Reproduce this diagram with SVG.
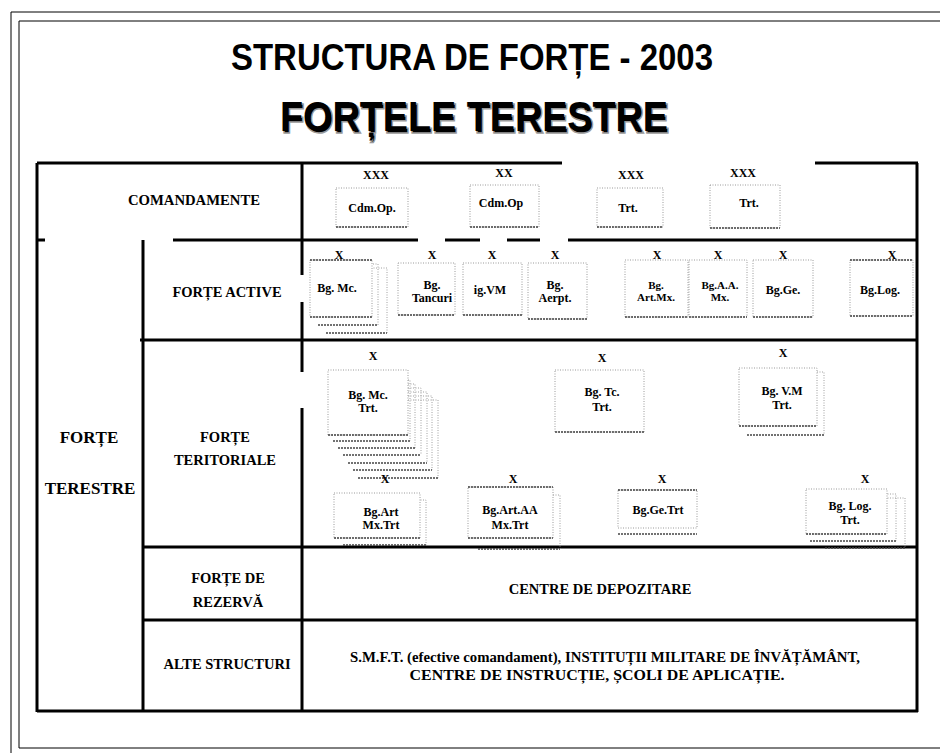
<svg xmlns="http://www.w3.org/2000/svg" width="940" height="753" viewBox="0 0 940 753">
<style>
.t{font-family:"Liberation Serif","Times New Roman",serif;font-weight:bold;text-anchor:middle;fill:#000}
.l{font-size:14.5px}
.n{font-size:12px}
.m{font-size:11px}
.x{font-size:12px}
.b{fill:#fff;stroke:#9a9a9a;stroke-width:1;stroke-dasharray:1 1.5}
.s{fill:none;stroke:#a0a0a0;stroke-width:1;stroke-dasharray:1 1.5}
.d{fill:none;stroke:#444;stroke-width:1.4;stroke-dasharray:2 1}
.g{stroke:#000;stroke-width:3;fill:none}
.f{fill:none;stroke:#000;stroke-width:1}
.h{font-family:"Liberation Sans",Arial,sans-serif;font-weight:bold;fill:#000}
</style>
<rect width="940" height="753" fill="#fff"/>
<g id="frame">
<path class="f" d="M945 12 H11 V760"/>
<path class="f" d="M945 21 H19 V748 H945"/>
</g>
<g id="title">
<text class="h" x="231" y="70" font-size="37" textLength="482" lengthAdjust="spacingAndGlyphs">STRUCTURA DE FORȚE - 2003</text>
<text class="h" x="281.5" y="132.5" font-size="42" textLength="388" lengthAdjust="spacingAndGlyphs" fill="#9a9a9a" stroke="#9a9a9a" stroke-width="1.5">FORȚELE TERESTRE</text>
<text class="h" x="280" y="131" font-size="42" textLength="388" lengthAdjust="spacingAndGlyphs">FORȚELE TERESTRE</text>
</g>
<g id="grid">
<path class="g" d="M37 163 H562 M815 163 H918"/>
<path class="g" d="M37 163 V712 M917 163 V712 M37 711 H918"/>
<path class="g" d="M302 163 V275 M302 302 V372 M302 408 V711"/>
<path class="g" d="M37 240 H45 M173 240 H418 M445 240 H480 M507 240 H540 M568 240 H917"/>
<path class="g" d="M143 240 V711"/>
<path class="g" d="M140 340 H917"/>
<path class="g" d="M143 547 H917"/>
<path class="g" d="M143 620 H917"/>
</g>
<g id="labels">
<text class="t l" x="194" y="205" textLength="132" lengthAdjust="spacingAndGlyphs">COMANDAMENTE</text>
<text class="t l" x="227" y="297">FORȚE ACTIVE</text>
<text class="t" x="89" y="443" font-size="17">FORȚE</text>
<text class="t" x="90" y="494" font-size="17">TERESTRE</text>
<text class="t l" x="225" y="442">FORȚE</text>
<text class="t l" x="225" y="465">TERITORIALE</text>
<text class="t l" x="228" y="583">FORȚE DE</text>
<text class="t l" x="228" y="607">REZERVĂ</text>
<text class="t l" x="227" y="669">ALTE STRUCTURI</text>
<text class="t l" x="600" y="594">CENTRE DE DEPOZITARE</text>
<text class="t l" x="605" y="662" textLength="510" lengthAdjust="spacingAndGlyphs">S.M.F.T. (efective comandament), INSTITUȚII MILITARE DE ÎNVĂȚĂMÂNT,</text>
<text class="t l" x="597" y="680" textLength="375" lengthAdjust="spacingAndGlyphs">CENTRE DE INSTRUCȚIE, ȘCOLI DE APLICAȚIE.</text>
</g>
<g id="c1"><rect class="b" x="336" y="188" width="72" height="39"/><path class="d" d="M336 227 H408"/><text class="t x" x="376" y="179">XXX</text><text class="t n" x="372" y="212">Cdm.Op.</text></g>
<g id="c2"><rect class="b" x="470" y="185" width="69" height="42"/><path class="d" d="M470 227 H539"/><text class="t x" x="504" y="177">XX</text><text class="t n" x="501" y="207">Cdm.Op</text></g>
<g id="c3"><rect class="b" x="597" y="188" width="66" height="39"/><path class="d" d="M597 227 H663"/><text class="t x" x="631" y="179">XXX</text><text class="t n" x="628" y="212">Trt.</text></g>
<g id="c4"><rect class="b" x="710" y="185" width="70" height="43"/><path class="d" d="M710 228 H780"/><text class="t x" x="743" y="177">XXX</text><text class="t n" x="749" y="207">Trt.</text></g>
<g id="a1"><path class="s" d="M326 268 H387 V333"/><path class="d" d="M326 333 H387"/><path class="s" d="M318 264 H378 V325"/><path class="d" d="M318 325 H378"/><rect class="b" x="310" y="260" width="62" height="57"/><path class="d" d="M310 260 H372 M310 317 H372"/><text class="t x" x="339" y="259">X</text><text class="t n" x="337" y="292">Bg. Mc.</text></g>
<g id="a2"><rect class="b" x="398" y="263" width="57" height="52"/><path class="d" d="M398 315 H455"/><text class="t x" x="432" y="259">X</text><text class="t n" x="432" y="289">Bg.</text><text class="t n" x="432" y="302">Tancuri</text></g>
<g id="a3"><rect class="b" x="463" y="263" width="59" height="52"/><path class="d" d="M463 315 H522"/><text class="t x" x="492" y="259">X</text><text class="t n" x="490" y="294">ig.VM</text></g>
<g id="a4"><rect class="b" x="528" y="263" width="59" height="56"/><path class="d" d="M528 319 H587"/><text class="t x" x="555" y="259">X</text><text class="t n" x="555" y="289">Bg.</text><text class="t n" x="555" y="302">Aerpt.</text></g>
<g id="a5"><rect class="b" x="625" y="260" width="63" height="57"/><path class="d" d="M625 317 H688"/><text class="t x" x="657" y="259">X</text><text class="t m" x="656" y="289">Bg.</text><text class="t m" x="656" y="301">Art.Mx.</text></g>
<g id="a6"><rect class="b" x="689" y="260" width="58" height="57"/><path class="d" d="M689 317 H747"/><text class="t x" x="718" y="259">X</text><text class="t m" x="720" y="289">Bg.A.A.</text><text class="t m" x="720" y="301">Mx.</text></g>
<g id="a7"><rect class="b" x="753" y="260" width="60" height="57"/><path class="d" d="M753 317 H813"/><text class="t x" x="783" y="259">X</text><text class="t n" x="783" y="294">Bg.Ge.</text></g>
<g id="a8"><rect class="b" x="850" y="260" width="63" height="56"/><path class="d" d="M850 260 H913 M850 316 H913"/><text class="t x" x="892" y="259">X</text><text class="t n" x="880" y="294">Bg.Log.</text></g>
<g id="t1">
<path class="s" d="M358 400 H438 V478"/><path class="d" d="M358 478 H438"/>
<path class="s" d="M353 396 H432 V470"/><path class="d" d="M353 470 H432"/>
<path class="s" d="M348 392 H427 V463"/><path class="d" d="M348 463 H427"/>
<path class="s" d="M343 388 H421 V455"/><path class="d" d="M343 455 H421"/>
<path class="s" d="M338 384 H415 V448"/><path class="d" d="M338 448 H415"/>
<path class="s" d="M333 380 H410 V441"/><path class="d" d="M333 441 H410"/>
<rect class="b" x="328" y="370" width="80" height="65"/><path class="d" d="M328 435 H408"/>
<text class="t x" x="373" y="360">X</text><text class="t n" x="368" y="399">Bg. Mc.</text><text class="t n" x="368" y="412">Trt.</text></g>
<g id="t2"><rect class="b" x="555" y="370" width="89" height="62"/><path class="d" d="M555 432 H644"/><text class="t x" x="602" y="362">X</text><text class="t n" x="602" y="396">Bg. Tc.</text><text class="t n" x="602" y="411">Trt.</text></g>
<g id="t3"><path class="s" d="M747 372 H824 V435"/><path class="d" d="M747 435 H824"/><rect class="b" x="739" y="368" width="78" height="58"/><path class="d" d="M739 426 H817"/><text class="t x" x="783" y="357">X</text><text class="t n" x="782" y="395">Bg. V.M</text><text class="t n" x="782" y="409">Trt.</text></g>
<g id="t4"><path class="s" d="M343 500 H426 V545"/><path class="d" d="M343 545 H426"/><rect class="b" x="334" y="493" width="86" height="45"/><path class="d" d="M334 538 H420"/><text class="t x" x="385" y="483">X</text><text class="t n" x="381" y="516">Bg.Art</text><text class="t n" x="381" y="529">Mx.Trt</text></g>
<g id="t5"><path class="s" d="M478 495 H560 V549"/><path class="d" d="M478 549 H560"/><rect class="b" x="468" y="487" width="85" height="51"/><path class="d" d="M468 487 H553 M468 538 H553"/><text class="t x" x="513" y="483">X</text><text class="t n" x="510" y="514">Bg.Art.AA</text><text class="t n" x="510" y="529">Mx.Trt</text></g>
<g id="t6"><rect class="b" x="618" y="490" width="79" height="38"/><path class="d" d="M618 490 H697 M618 534 H697"/><text class="t x" x="662" y="483">X</text><text class="t n" x="658" y="514">Bg.Ge.Trt</text></g>
<g id="t7"><path class="s" d="M815 498 H905 V548"/><path class="d" d="M825 548 H905"/><path class="s" d="M810 494 H896 V541"/><path class="d" d="M810 541 H896"/><rect class="b" x="806" y="489" width="81" height="45"/><path class="d" d="M806 534 H887"/><text class="t x" x="865" y="483">X</text><text class="t n" x="850" y="510">Bg. Log.</text><text class="t n" x="850" y="524">Trt.</text></g>
</svg>
